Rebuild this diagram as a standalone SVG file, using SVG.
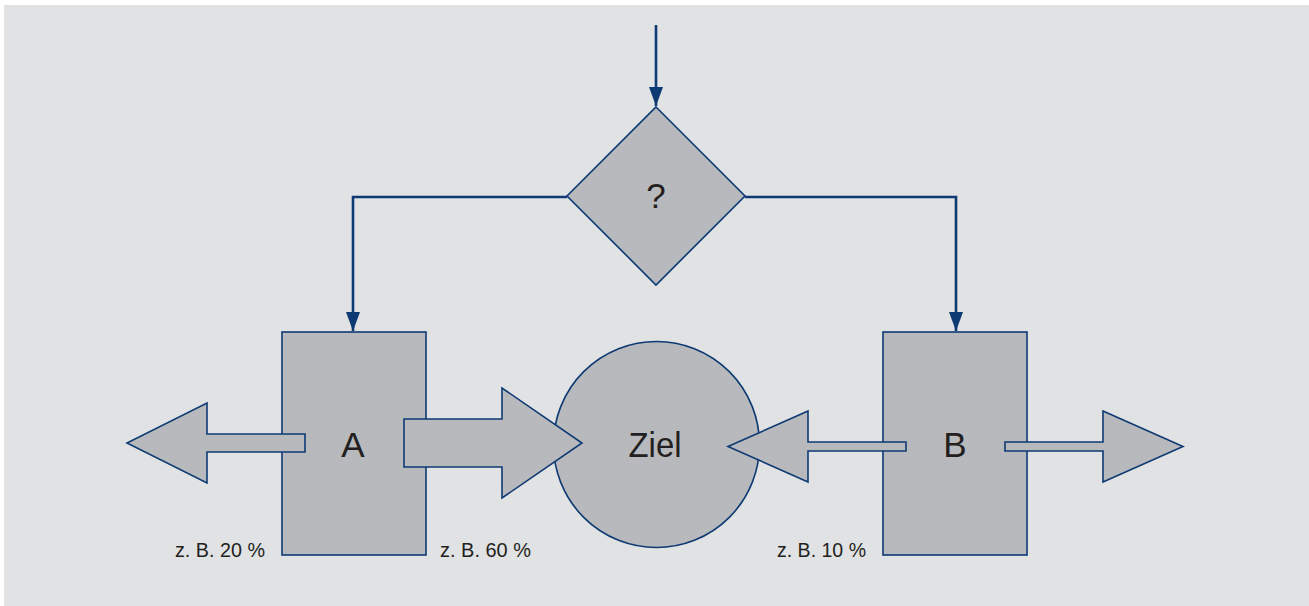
<svg xmlns="http://www.w3.org/2000/svg" width="1309" height="606" viewBox="0 0 1309 606">
  <style>
    .shape { fill: #b8b9bc; stroke: #0d3a73; stroke-width: 1.6; stroke-linejoin: miter; }
    .conn { fill: none; stroke: #0d3a73; stroke-width: 2.6; }
    .big { font-family: "Liberation Sans", Arial, sans-serif; font-size: 35px; fill: #231f20; text-anchor: middle; }
    .small { font-family: "Liberation Sans", Arial, sans-serif; font-size: 20.5px; fill: #231f20; }
  </style>
  <defs>
    <marker id="head" viewBox="0 0 19 14" refX="19" refY="7" markerWidth="19" markerHeight="14" markerUnits="userSpaceOnUse" orient="auto">
      <path d="M0,0 L19,7 L0,14 Z" fill="#0d3a73"/>
    </marker>
  </defs>
  <rect x="4" y="5" width="1305" height="601" fill="#e1e2e4"/>

  <g id="connectors">
    <path class="conn" d="M656,25 L656,106" marker-end="url(#head)"/>
    <path class="conn" d="M567,197 L353,197 L353,331" marker-end="url(#head)"/>
    <path class="conn" d="M745,197 L956,197 L956,331" marker-end="url(#head)"/>
  </g>

  <g id="decision">
    <polygon class="shape" points="656,107 745,196 656,285 567,196"/>
    <text class="big" x="656" y="208">?</text>
  </g>

  <g id="ziel">
    <circle class="shape" cx="656.5" cy="444.5" r="103"/>
    <text class="big" x="655" y="457" textLength="53" lengthAdjust="spacingAndGlyphs">Ziel</text>
  </g>

  <g id="nodeA">
    <rect class="shape" x="282" y="332" width="144" height="223"/>
    <text class="big" x="353" y="457">A</text>
  </g>

  <g id="nodeB">
    <rect class="shape" x="883" y="332" width="144" height="223"/>
    <text class="big" x="955" y="457">B</text>
  </g>

  <g id="flow-arrows">
    <polygon id="arrowA-left" class="shape" points="305,434 207,434 207,403 127,443 207,483 207,452 305,452"/>
    <polygon id="arrowA-right" class="shape" points="404,419 502,419 502,388 582,443 502,498 502,467 404,467"/>
    <polygon id="arrowB-left" class="shape" points="906,442 808,442 808,411 728,446.5 808,482 808,451 906,451"/>
    <polygon id="arrowB-right" class="shape" points="1005,442 1103,442 1103,411 1183,446.5 1103,482 1103,451 1005,451"/>
  </g>

  <g id="labels">
    <text class="small" x="175" y="557" textLength="90" lengthAdjust="spacingAndGlyphs">z. B. 20 %</text>
    <text class="small" x="440" y="557" textLength="91" lengthAdjust="spacingAndGlyphs">z. B. 60 %</text>
    <text class="small" x="777" y="557" textLength="89" lengthAdjust="spacingAndGlyphs">z. B. 10 %</text>
  </g>
</svg>
